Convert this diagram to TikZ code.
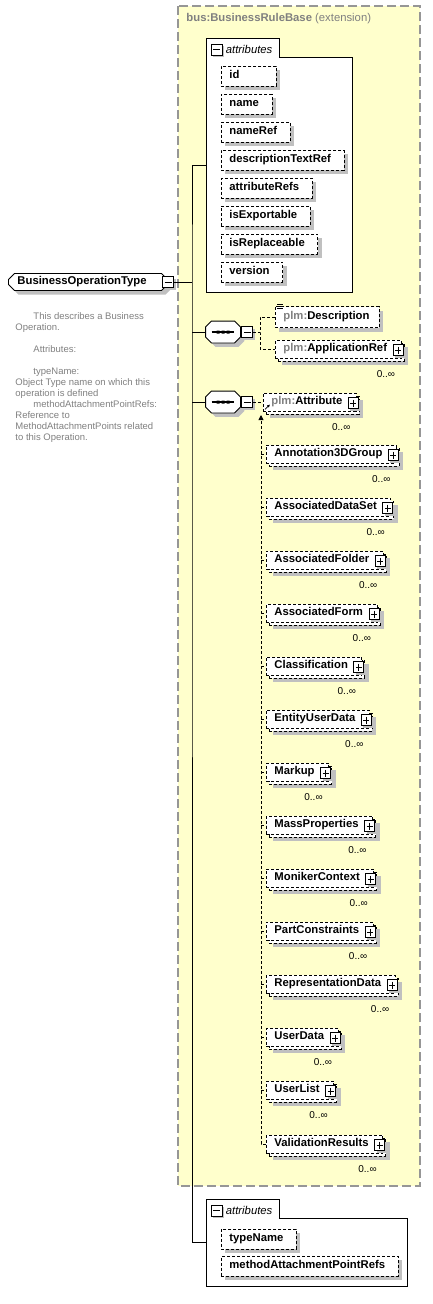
\documentclass[tikz,border=0pt]{standalone}
\usepackage{fontspec}
\setmainfont{Liberation Sans}
\usetikzlibrary{shapes.misc,shadows,arrows.meta,positioning}

\definecolor{extfill}{RGB}{255,255,204}
\definecolor{extline}{RGB}{150,150,150}
\definecolor{shade}{RGB}{192,192,192}
\definecolor{docgray}{RGB}{128,128,128}

\newcommand{\elfont}{\fontsize{11.3}{13}\selectfont\bfseries}
\newcommand{\pfx}[1]{\textcolor{docgray}{#1}}

\tikzset{
    drop/.style={general shadow={fill=shade, shadow xshift=4pt, shadow yshift=-4pt}},
    dashbox/.style={draw, fill=white, dash pattern=on 3pt off 2pt, font=\elfont, inner xsep=8pt, inner ysep=0pt, text height=8pt, text depth=2.5pt, anchor=west},
    attbox/.style={dashbox, drop, minimum height=20pt, execute at end node=\hspace{5pt}},
    elone/.style={dashbox, drop, minimum height=21pt, execute at end node=\hspace{2pt}},
    elmany/.style={dashbox, minimum height=18pt, execute at end node=\hspace{6pt},
        general shadow={fill=shade, shadow xshift=7pt, shadow yshift=-7pt},
        general shadow={fill=white, draw=black, dash pattern=on 3pt off 2pt, shadow xshift=3pt, shadow yshift=-3pt}},
    plusbox/.style={draw, solid, fill=white, inner sep=0pt, minimum width=10pt, minimum height=11pt, anchor=east, xshift=2pt, yshift=-1pt,
        general shadow={fill=shade, shadow xshift=2pt, shadow yshift=-2pt},
        path picture={\draw ([xshift=2pt]path picture bounding box.west) -- ([xshift=-2pt]path picture bounding box.east)
            ([yshift=-2pt]path picture bounding box.north) -- ([yshift=2pt]path picture bounding box.south);}},
    minusbox/.style={draw, solid, fill=white, inner sep=0pt, minimum size=11pt,
        general shadow={fill=shade, shadow xshift=2pt, shadow yshift=-2pt},
        path picture={\draw ([xshift=2pt]path picture bounding box.west) -- ([xshift=-2pt]path picture bounding box.east);}},
    mult/.style={font=\fontsize{10}{12}\selectfont, inner sep=0pt, anchor=north east, xshift=-6pt, yshift=-12pt},
    seqbox/.style={inner sep=0pt, minimum width=34pt, minimum height=21pt,
        append after command={\pgfextra{\let\seqnd\tikzlastnode
            \draw[fill=white, drop] ([xshift=6pt]\seqnd.north west) -- ([xshift=-6pt]\seqnd.north east)
                -- ([yshift=-6pt]\seqnd.north east) -- ([yshift=6pt]\seqnd.south east)
                -- ([xshift=-6pt]\seqnd.south east) -- ([xshift=6pt]\seqnd.south west)
                -- ([yshift=6pt]\seqnd.south west) -- ([yshift=-6pt]\seqnd.north west) -- cycle;
            \draw[line width=1.2pt] ([xshift=6pt]\seqnd.west) -- ([xshift=-6pt]\seqnd.east);
            \fill ([shift={(-6.5pt,-1.5pt)}]\seqnd.center) rectangle +(3pt,3pt)
                ([shift={(-1.5pt,-1.5pt)}]\seqnd.center) rectangle +(3pt,3pt)
                ([shift={(3.5pt,-1.5pt)}]\seqnd.center) rectangle +(3pt,3pt);}}},
    typebox/.style={chamfered rectangle, chamfered rectangle xsep=3pt, chamfered rectangle ysep=3pt, draw, fill=white, drop,
        font=\elfont, inner xsep=6pt, inner ysep=0pt, minimum width=152pt, minimum height=17pt, text height=8pt, text depth=2.5pt,
        anchor=west, execute at end node=\hspace{12pt}},
    grpline/.style={draw, fill=white},
    grptitle/.style={anchor=west, font=\fontsize{11.3}{13}\selectfont\itshape, inner xsep=3pt},
    extbox/.style={draw=extline, fill=extfill, line width=1.2pt, dash pattern=on 9pt off 4pt},
    subline/.style={dash pattern=on 3pt off 2pt},
}

\begin{document}
\begin{tikzpicture}[x=1pt,y=-1pt,line width=0.9pt]
        \useasboundingbox (0,0) rectangle (432,1304);
        \draw[extbox] (178,6) rectangle (420,1186);
        \node[anchor=west, text=docgray, font=\fontsize{11.3}{13}\selectfont, inner sep=0pt] (ext) at (186,19) {\textbf{bus:BusinessRuleBase} (extension)};

        \draw[grpline] (206,38) -- (279,38) -- (279,57) -- (352,57) -- (352,292) -- (206,292) -- cycle;
        \node[minusbox] (atgAm) at (216.5,49.5) {};
        \node[grptitle] (atgAt) at (atgAm.east) {attributes};
        \coordinate (atgA) at (206,165);

        \node[attbox] (aid) at (221,76) {\makebox[34pt][l]{id}};
        \node[attbox] (anm) at (221,104) {name};
        \node[attbox] (anr) at (221,132) {nameRef};
        \node[attbox] (adt) at (221,160) {descriptionTextRef};
        \node[attbox] (aar) at (221,188) {attributeRefs};
        \node[attbox] (aex) at (221,216) {isExportable};
        \node[attbox] (arp) at (221,244) {isReplaceable};
        \node[attbox] (avr) at (221,272) {version};

        \node[typebox] (bot) at (8,282) {BusinessOperationType};
        \node[minusbox] (botm) at (bot.east) {};
        \coordinate (bus) at (192,282);

        \node[anchor=north west, inner sep=0pt, align=left, text=docgray, font=\fontsize{9.5}{11}\selectfont] (doc) at (15,312)
            {\hspace*{18pt}This describes a Business\\ Operation.\\[11pt]
             \hspace*{18pt}Attributes:\\[11pt]
             \hspace*{18pt}typeName:\\ Object Type name on which this\\ operation is defined\\
             \hspace*{18pt}methodAttachmentPointRefs:\\ Reference to\\ MethodAttachmentPoints related\\ to this Operation.};

        \node[seqbox] (seqA) at (223,332) {};
        \node[minusbox, anchor=west] (seqAm) at ([xshift=1pt]seqA.east) {};
        \coordinate (chA) at (260,332);
        \node[elone] (desc) at (275,317) {\pfx{plm:}Description};
        \node[elmany] (appref) at (275,349) {\pfx{plm:}ApplicationRef};
        \node[plusbox] (apprefp) at (appref.east) {};
        \node[mult] (apprefm) at (appref.south east) {0..∞};
        \draw[solid, line width=0.6pt] ([xshift=2pt,yshift=2pt]desc.north west) -- +(6,0)
            ([xshift=2pt]desc.north west) -- +(6,0) ([xshift=2pt,yshift=-2pt]desc.north west) -- +(6,0);

        \node[seqbox] (seqB) at (223,402) {};
        \node[minusbox, anchor=west] (seqBm) at ([xshift=1pt]seqB.east) {};
        \node[elmany] (attr) at (263,402) {\pfx{plm:}Attribute};
        \node[plusbox] (attrp) at (attr.east) {};
        \node[mult] (attrm) at (attr.south east) {0..∞};
        \draw[solid, line width=0.7pt, -{Latex[length=3pt,width=3pt]}] ([xshift=2pt,yshift=2pt]attr.south west) -- +(5,-5);
        \coordinate (sg) at (261,415);

        \node[elmany] (a3d) at (266,454) {Annotation3DGroup};
        \node[plusbox] (a3dp) at (a3d.east) {};
        \node[mult] (a3dm) at (a3d.south east) {0..∞};
        \node[elmany] (ads) at (266,507) {AssociatedDataSet};
        \node[plusbox] (adsp) at (ads.east) {};
        \node[mult] (adsm) at (ads.south east) {0..∞};
        \node[elmany] (afo) at (266,560) {AssociatedFolder};
        \node[plusbox] (afop) at (afo.east) {};
        \node[mult] (afom) at (afo.south east) {0..∞};
        \node[elmany] (afm) at (266,613) {AssociatedForm};
        \node[plusbox] (afmp) at (afm.east) {};
        \node[mult] (afmm) at (afm.south east) {0..∞};
        \node[elmany] (cls) at (266,666) {Classification};
        \node[plusbox] (clsp) at (cls.east) {};
        \node[mult] (clsm) at (cls.south east) {0..∞};
        \node[elmany] (eud) at (266,719) {EntityUserData};
        \node[plusbox] (eudp) at (eud.east) {};
        \node[mult] (eudm) at (eud.south east) {0..∞};
        \node[elmany] (mku) at (266,772) {Markup};
        \node[plusbox] (mkup) at (mku.east) {};
        \node[mult] (mkum) at (mku.south east) {0..∞};
        \node[elmany] (mps) at (266,825) {MassProperties};
        \node[plusbox] (mpsp) at (mps.east) {};
        \node[mult] (mpsm) at (mps.south east) {0..∞};
        \node[elmany] (mnk) at (266,878) {MonikerContext};
        \node[plusbox] (mnkp) at (mnk.east) {};
        \node[mult] (mnkm) at (mnk.south east) {0..∞};
        \node[elmany] (pcs) at (266,931) {PartConstraints};
        \node[plusbox] (pcsp) at (pcs.east) {};
        \node[mult] (pcsm) at (pcs.south east) {0..∞};
        \node[elmany] (rpd) at (266,984) {RepresentationData};
        \node[plusbox] (rpdp) at (rpd.east) {};
        \node[mult] (rpdm) at (rpd.south east) {0..∞};
        \node[elmany] (usd) at (266,1037) {UserData};
        \node[plusbox] (usdp) at (usd.east) {};
        \node[mult] (usdm) at (usd.south east) {0..∞};
        \node[elmany] (usl) at (266,1090) {UserList};
        \node[plusbox] (uslp) at (usl.east) {};
        \node[mult] (uslm) at (usl.south east) {0..∞};
        \node[elmany] (vlr) at (266,1144) {ValidationResults};
        \node[plusbox] (vlrp) at (vlr.east) {};
        \node[mult] (vlrm) at (vlr.south east) {0..∞};

        \draw[grpline] (206,1199) -- (279,1199) -- (279,1218) -- (407,1218) -- (407,1286) -- (206,1286) -- cycle;
        \node[minusbox] (atgBm) at (216.5,1210.5) {};
        \node[grptitle] (atgBt) at (atgBm.east) {attributes};
        \coordinate (atgB) at (206,1242);
        \node[attbox] (tnm) at (221,1239) {typeName};
        \node[attbox] (mapr) at (221,1266) {methodAttachmentPointRefs};

        \draw (botm) -- (bus);
        \draw (atgA) -| (bus) |- (atgB);
        \draw (bus |- seqA) -- (seqA);
        \draw (bus |- seqB) -- (seqB);

        \draw[subline] (seqAm) -- (chA);
        \draw[subline] (desc) -| (chA) |- (appref);
        \draw[subline] (seqBm) -- (attr);
        \draw[subline, -{Triangle[length=5pt,width=5pt]}] (vlr) -| (sg);
        \draw[subline] (sg |- a3d) -- (a3d);
        \draw[subline] (sg |- ads) -- (ads);
        \draw[subline] (sg |- afo) -- (afo);
        \draw[subline] (sg |- afm) -- (afm);
        \draw[subline] (sg |- cls) -- (cls);
        \draw[subline] (sg |- eud) -- (eud);
        \draw[subline] (sg |- mku) -- (mku);
        \draw[subline] (sg |- mps) -- (mps);
        \draw[subline] (sg |- mnk) -- (mnk);
        \draw[subline] (sg |- pcs) -- (pcs);
        \draw[subline] (sg |- rpd) -- (rpd);
        \draw[subline] (sg |- usd) -- (usd);
        \draw[subline] (sg |- usl) -- (usl);
\end{tikzpicture}
\end{document}
